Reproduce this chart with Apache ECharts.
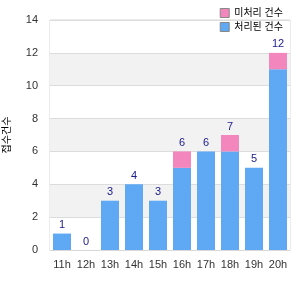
<!DOCTYPE html>
<html>
<head>
<meta charset="utf-8">
<script src="https://cdn.jsdelivr.net/npm/echarts@6/dist/echarts.min.js"></script>
<style>
  html, body { margin: 0; padding: 0; background: #fff; }
  #main { width: 300px; height: 300px; }
</style>
</head>
<body>
<div id="main"></div>
<script>
// 시간대별 건수
var hours = ['11h', '12h', '13h', '14h', '15h', '16h', '17h', '18h', '19h', '20h'];
var blueVals = [1, 0, 3, 4, 3, 5, 6, 6, 5, 11];
var pinkVals = [0, 0, 0, 0, 0, 1, 0, 1, 0, 1];
var seriesNames = ['처리된 건수', '미처리 건수'];
var yTitle = '접수건수';

var totals = hours.map(function (h, i) { return blueVals[i] + pinkVals[i]; });

var myChart = echarts.init(document.getElementById('main'));
var option = {
  animation: false,
  textStyle: { fontFamily: 'Arial, "Liberation Sans", "Noto Sans CJK KR", sans-serif' },
  legend: {
    orient: 'vertical',
    right: 12,
    top: 3,
    itemWidth: 9,
    itemHeight: 9,
    itemGap: 4,
    icon: 'rect',
    data: [seriesNames[1], seriesNames[0]],
    textStyle: { fontSize: 10, color: '#000' },
    itemStyle: { borderColor: '#888', borderWidth: 1 }
  },
  grid: {
    left: 50, right: 10, top: 20, bottom: 50,
    show: true, borderColor: '#d8d8d8', borderWidth: 1,
    containLabel: false,
    outerBoundsMode: 'none'
  },
  xAxis: {
    type: 'category',
    data: hours,
    axisLine: { lineStyle: { color: '#d8d8d8' } },
    axisTick: { show: false },
    axisLabel: { color: '#333', fontSize: 11, margin: 9, interval: 0 }
  },
  yAxis: {
    type: 'value',
    min: 0, max: 14, interval: 2,
    name: yTitle,
    nameLocation: 'middle',
    nameGap: 38,
    nameRotate: 90,
    nameTextStyle: { fontSize: 10, color: '#000' },
    axisLine: { show: false },
    axisTick: { show: false },
    axisLabel: { color: '#333', fontSize: 11, margin: 12 },
    splitLine: { lineStyle: { color: '#dcdcdc' } },
    splitArea: { show: true, areaStyle: { color: ['#ffffff', '#f2f2f2'] } }
  },
  series: [
    {
      name: seriesNames[0],
      type: 'bar',
      stack: 'total',
      barWidth: 18,
      data: blueVals,
      itemStyle: { color: '#5fa8f4' }
    },
    {
      name: seriesNames[1],
      type: 'bar',
      stack: 'total',
      barWidth: 18,
      data: pinkVals,
      itemStyle: { color: '#f386bd' },
      label: {
        show: true,
        position: 'top',
        distance: 3,
        color: '#1a1a8a',
        fontSize: 11,
        formatter: function (p) { return totals[p.dataIndex]; }
      }
    }
  ]
};
myChart.setOption(option);
</script>
</body>
</html>
